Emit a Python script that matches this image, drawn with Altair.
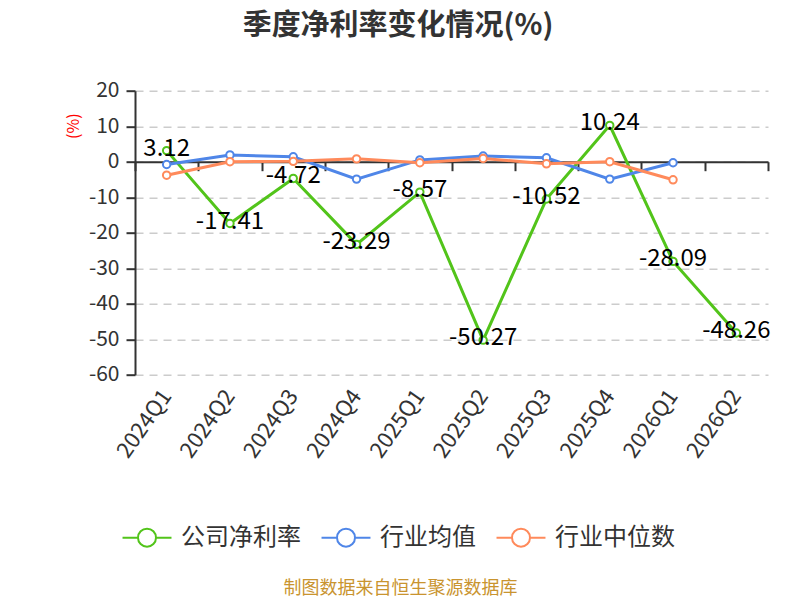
import altair as alt
import pandas as pd

quarters = ["2024Q1", "2024Q2", "2024Q3", "2024Q4", "2025Q1",
            "2025Q2", "2025Q3", "2025Q4", "2026Q1", "2026Q2"]
company = [3.12, -17.41, -4.72, -23.29, -8.57, -50.27, -10.52, 10.24, -28.09, -48.26]
industry_avg = [-0.8, 1.9, 1.4, -4.9, 0.5, 1.6, 1.1, -4.9, -0.3, None]
industry_med = [-3.8, 0.0, 0.1, 0.8, -0.3, 0.9, -0.6, 0.0, -5.1, None]
series_names = ["公司净利率", "行业均值", "行业中位数"]
series_colors = ["#52c41a", "#4f86e8", "#ff8a5b"]
y_ticks = [-60, -50, -40, -30, -20, -10, 0, 10, 20]

rows = []
for name, vals in zip(series_names, [company, industry_avg, industry_med]):
    for q, v in zip(quarters, vals):
        if v is not None:
            rows.append({"quarter": q, "series": name, "value": v})
df = pd.DataFrame(rows)
labels_df = pd.DataFrame({"quarter": quarters, "value": company,
                          "label": [f"{v:.2f}" for v in company]})

FONT = "Noto Sans CJK SC"
W, H = 633, 284

x_scale = alt.Scale(type="band", domain=quarters, paddingInner=0, paddingOuter=0)
y_scale = alt.Scale(domain=[-60, 20], nice=False)
color_scale = alt.Scale(domain=series_names, range=series_colors)

y_axis = alt.Axis(values=y_ticks, labelExpr="datum.value + ''",
                  title="(%)", titleColor="#ff0000", titleFontSize=16,
                  titleFontWeight="normal", titleAngle=270, titleX=-62, titleY=35,
                  titleAlign="center", titleBaseline="middle",
                  labelFontSize=21, labelColor="#333333", labelPadding=7,
                  tickSize=9, tickWidth=2, tickColor="#333333",
                  domainColor="#333333", domainWidth=2,
                  grid=True, gridColor="#cccccc", gridDash=[8, 6], gridWidth=1.5)

legend = alt.Legend(orient="none", legendX=0, legendY=435, direction="horizontal",
                    title=None, padding=0,
                    symbolType="M-2.72,0L-1,0M1,0L2.72,0M1,0A1,1,0,1,1,-1,0A1,1,0,1,1,1,0",
                    symbolSize=324, symbolStrokeWidth=2, symbolFillColor="white",
                    labelFontSize=24, labelColor="#333333", labelFont=FONT,
                    labelOffset=22, columnPadding=16)

label_axis = alt.Axis(labelAngle=-55, labelAlign="right", labelBaseline="middle",
                      labelFontSize=22, labelColor="#333333", labelPadding=17,
                      ticks=False, domain=False, grid=False,
                      title="制图数据来自恒生聚源数据库", titleColor="#c9942f",
                      titleFontSize=18, titleFontWeight="normal",
                      titleX=265, titleY=214, titleAlign="center", titleBaseline="middle")

tick_axis = alt.Axis(orient="bottom", offset=-(H - 71), labels=False, title=None,
                     grid=False, domain=True, domainColor="#333333", domainWidth=2,
                     ticks=True, tickSize=9, tickWidth=2, tickColor="#333333",
                     tickBand="extent")

lines = alt.Chart(df).mark_line(strokeWidth=3).encode(
    x=alt.X("quarter:N", scale=x_scale, bandPosition=0.5, axis=label_axis),
    y=alt.Y("value:Q", scale=y_scale, axis=y_axis),
    color=alt.Color("series:N", scale=color_scale, legend=legend, sort=series_names),
)

points = alt.Chart(df).mark_point(filled=False, fill="white", size=55,
                                  strokeWidth=2, opacity=1).encode(
    x=alt.X("quarter:N", scale=x_scale, bandPosition=0.5, axis=tick_axis),
    y=alt.Y("value:Q", scale=y_scale, axis=y_axis),
    color=alt.Color("series:N", scale=color_scale, legend=legend, sort=series_names),
)

texts = alt.Chart(labels_df).mark_text(fontSize=24, color="#000000", baseline="middle",
                                       dy=-2, font=FONT).encode(
    x=alt.X("quarter:N", scale=x_scale, bandPosition=0.5, axis=None),
    y=alt.Y("value:Q", scale=y_scale, axis=y_axis),
    text="label:N",
)

chart = alt.layer(lines, points, texts).resolve_axis(x="independent").properties(
    width=W, height=H,
    autosize=alt.AutoSizeParams(type="none"),
    padding={"left": 127, "top": 82.7, "right": 24, "bottom": 225},
    title=alt.TitleParams("季度净利率变化情况(%)", fontSize=29, fontWeight="bold",
                          color="#333333", anchor="middle", frame="group",
                          dx=-53.5, offset=39, font=FONT),
).configure(font=FONT, background="white").configure_view(stroke=None)

chart.save("out.html", embed_options={"renderer": "svg", "actions": False})
